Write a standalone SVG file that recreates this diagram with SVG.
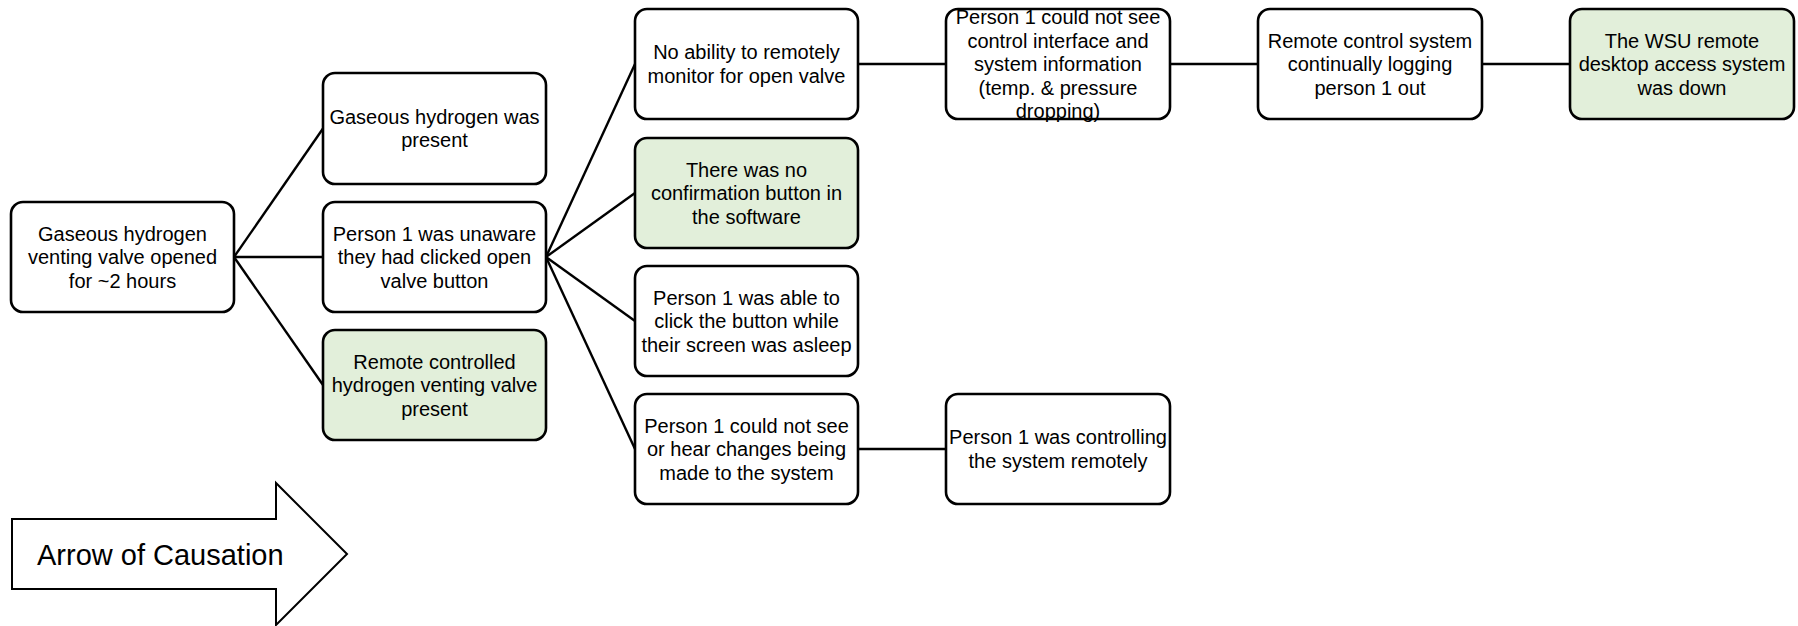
<svg xmlns="http://www.w3.org/2000/svg" width="1798" height="626" viewBox="0 0 1798 626">
<style>
.box{fill:#ffffff;stroke:#000000;stroke-width:2.6}
.green{fill:#e2efda}
.t{font-family:"Liberation Sans",Arial,sans-serif;font-size:20px;fill:#000000;text-anchor:middle}
.c{stroke:#000000;stroke-width:2.4;fill:none}
</style>
<rect width="1798" height="626" fill="#ffffff"/>
<g id="connectors">
<line class="c" x1="234" y1="257" x2="323" y2="128.5"/>
<line class="c" x1="234" y1="257" x2="323" y2="257"/>
<line class="c" x1="234" y1="257" x2="323" y2="385"/>
<line class="c" x1="546" y1="257" x2="635" y2="64"/>
<line class="c" x1="546" y1="257" x2="635" y2="193"/>
<line class="c" x1="546" y1="257" x2="635" y2="321"/>
<line class="c" x1="546" y1="257" x2="635" y2="449"/>
<line class="c" x1="858" y1="64" x2="946" y2="64"/>
<line class="c" x1="1170" y1="64" x2="1258" y2="64"/>
<line class="c" x1="1482" y1="64" x2="1570" y2="64"/>
<line class="c" x1="858" y1="449" x2="946" y2="449"/>
</g>
<g id="n_root">
<rect class="box" x="11" y="202" width="223" height="110" rx="12"/>
<text class="t" x="122.5" y="240.7"><tspan x="122.5">Gaseous hydrogen</tspan><tspan x="122.5" dy="23.5">venting valve opened</tspan><tspan x="122.5" dy="23.5">for ~2 hours</tspan></text>
</g>
<g id="n_gas">
<rect class="box" x="323" y="73" width="223" height="111" rx="12"/>
<text class="t" x="434.5" y="123.9"><tspan x="434.5">Gaseous hydrogen was</tspan><tspan x="434.5" dy="23.5">present</tspan></text>
</g>
<g id="n_unaware">
<rect class="box" x="323" y="202" width="223" height="110" rx="12"/>
<text class="t" x="434.5" y="240.7"><tspan x="434.5">Person 1 was unaware</tspan><tspan x="434.5" dy="23.5">they had clicked open</tspan><tspan x="434.5" dy="23.5">valve button</tspan></text>
</g>
<g id="n_remote">
<rect class="box green" x="323" y="330" width="223" height="110" rx="12"/>
<text class="t" x="434.5" y="368.7"><tspan x="434.5">Remote controlled</tspan><tspan x="434.5" dy="23.5">hydrogen venting valve</tspan><tspan x="434.5" dy="23.5">present</tspan></text>
</g>
<g id="n_monitor">
<rect class="box" x="635" y="9" width="223" height="110" rx="12"/>
<text class="t" x="746.5" y="59.4"><tspan x="746.5">No ability to remotely</tspan><tspan x="746.5" dy="23.5">monitor for open valve</tspan></text>
</g>
<g id="n_confirm">
<rect class="box green" x="635" y="138" width="223" height="110" rx="12"/>
<text class="t" x="746.5" y="176.7"><tspan x="746.5">There was no</tspan><tspan x="746.5" dy="23.5">confirmation button in</tspan><tspan x="746.5" dy="23.5">the software</tspan></text>
</g>
<g id="n_sleep">
<rect class="box" x="635" y="266" width="223" height="110" rx="12"/>
<text class="t" x="746.5" y="304.7"><tspan x="746.5">Person 1 was able to</tspan><tspan x="746.5" dy="23.5">click the button while</tspan><tspan x="746.5" dy="23.5">their screen was asleep</tspan></text>
</g>
<g id="n_hear">
<rect class="box" x="635" y="394" width="223" height="110" rx="12"/>
<text class="t" x="746.5" y="432.7"><tspan x="746.5">Person 1 could not see</tspan><tspan x="746.5" dy="23.5">or hear changes being</tspan><tspan x="746.5" dy="23.5">made to the system</tspan></text>
</g>
<g id="n_interface">
<rect class="box" x="946" y="9" width="224" height="110" rx="12"/>
<text class="t" x="1058" y="24.2"><tspan x="1058">Person 1 could not see</tspan><tspan x="1058" dy="23.5">control interface and</tspan><tspan x="1058" dy="23.5">system information</tspan><tspan x="1058" dy="23.5">(temp. &amp; pressure</tspan><tspan x="1058" dy="23.5">dropping)</tspan></text>
</g>
<g id="n_controlling">
<rect class="box" x="946" y="394" width="224" height="110" rx="12"/>
<text class="t" x="1058" y="444.4"><tspan x="1058">Person 1 was controlling</tspan><tspan x="1058" dy="23.5">the system remotely</tspan></text>
</g>
<g id="n_logout">
<rect class="box" x="1258" y="9" width="224" height="110" rx="12"/>
<text class="t" x="1370" y="47.7"><tspan x="1370">Remote control system</tspan><tspan x="1370" dy="23.5">continually logging</tspan><tspan x="1370" dy="23.5">person 1 out</tspan></text>
</g>
<g id="n_wsu">
<rect class="box green" x="1570" y="9" width="224" height="110" rx="12"/>
<text class="t" x="1682" y="47.7"><tspan x="1682">The WSU remote</tspan><tspan x="1682" dy="23.5">desktop access system</tspan><tspan x="1682" dy="23.5">was down</tspan></text>
</g>
<g id="causation_arrow">
<polygon points="12,519 276,519 276,483 347,554 276,625 276,589 12,589" fill="#ffffff" stroke="#000000" stroke-width="2"/>
<text x="37" y="565" font-family="'Liberation Sans',Arial,sans-serif" font-size="29" fill="#000000">Arrow of Causation</text>
</g>
</svg>
